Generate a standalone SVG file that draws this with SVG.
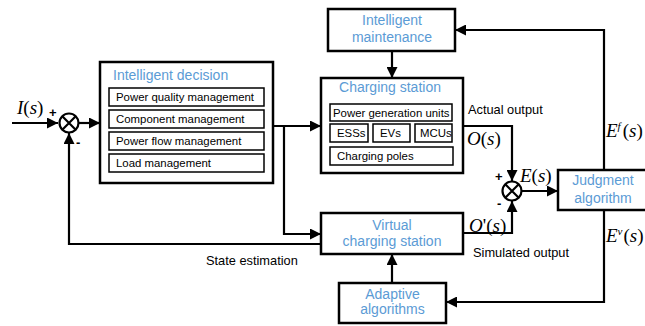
<svg xmlns="http://www.w3.org/2000/svg" width="645" height="326" viewBox="0 0 645 326">
<style>
.box{fill:#fff;stroke:#000;stroke-width:2.5}
.sub{fill:#fff;stroke:#000;stroke-width:1.5}
.ln{fill:none;stroke:#000;stroke-width:2.2}
.blue{font-family:"Liberation Sans",Arial,sans-serif;font-size:14px;fill:#5b9bd5}
.t{font-family:"Liberation Sans",Arial,sans-serif;font-size:11.4px;fill:#000}
.lb{font-family:"Liberation Sans",Arial,sans-serif;font-size:12.8px;fill:#000}
.m{font-family:"Liberation Serif","Times New Roman",serif;font-size:19px;fill:#000}
.sg{font-family:"Liberation Sans",Arial,sans-serif;font-size:13px;font-weight:bold;fill:#000}
</style>
<defs>
<marker id="ah" markerUnits="userSpaceOnUse" markerWidth="11" markerHeight="11" refX="11" refY="5.5" orient="auto">
<path d="M0,0 L11,5.5 L0,11 z" fill="#000"/>
</marker>
</defs>

<g id="connectors">
<path class="ln" d="M12,123 L58,123" marker-end="url(#ah)"/>
<path class="ln" d="M79,123 L100,123" marker-end="url(#ah)"/>
<path class="ln" d="M273,126 L321,126" marker-end="url(#ah)"/>
<path class="ln" d="M284,126 L284,234 L321,234" marker-end="url(#ah)"/>
<path class="ln" d="M321,244 L69,244 L69,133" marker-end="url(#ah)"/>
<path class="ln" d="M392,51 L392,78" marker-end="url(#ah)"/>
<path class="ln" d="M463,126 L512,126 L512,181" marker-end="url(#ah)"/>
<path class="ln" d="M463,233 L512,233 L512,201" marker-end="url(#ah)"/>
<path class="ln" d="M522,191 L558,191" marker-end="url(#ah)"/>
<path class="ln" d="M604,170 L604,30 L455,30" marker-end="url(#ah)"/>
<path class="ln" d="M604,210 L604,302 L446,302" marker-end="url(#ah)"/>
<path class="ln" d="M392,283 L392,254" marker-end="url(#ah)"/>
</g>

<g id="sum1">
<circle cx="69" cy="123" r="9.5" fill="#fff" stroke="#000" stroke-width="2.2"/>
<path class="ln" d="M62.3,116.3 L75.7,129.7 M75.7,116.3 L62.3,129.7"/>
</g>
<g id="sum2">
<circle cx="512" cy="191" r="9.5" fill="#fff" stroke="#000" stroke-width="2.2"/>
<path class="ln" d="M505.3,184.3 L518.7,197.7 M518.7,184.3 L505.3,197.7"/>
</g>

<g id="decision">
<rect class="box" x="100" y="62" width="173" height="121"/>
<text class="blue" x="113" y="80">Intelligent decision</text>
<rect class="sub" x="109" y="88" width="155" height="18"/>
<text class="t" x="116" y="101">Power quality management</text>
<rect class="sub" x="109" y="110" width="155" height="18"/>
<text class="t" x="116" y="123">Component management</text>
<rect class="sub" x="109" y="132" width="155" height="18"/>
<text class="t" x="116" y="145">Power flow management</text>
<rect class="sub" x="109" y="154" width="155" height="18"/>
<text class="t" x="116" y="167">Load management</text>
</g>

<g id="maintenance">
<rect class="box" x="328" y="9" width="127" height="42"/>
<text class="blue" x="392" y="25" text-anchor="middle">Intelligent</text>
<text class="blue" x="392" y="42" text-anchor="middle">maintenance</text>
</g>

<g id="charging">
<rect class="box" x="321" y="78" width="142" height="95"/>
<text class="blue" x="390" y="92" text-anchor="middle">Charging station</text>
<rect class="sub" x="330" y="104" width="122" height="17"/>
<text class="t" x="333" y="116.5">Power generation units</text>
<rect class="sub" x="330" y="124" width="38" height="18"/>
<text class="t" x="337" y="137">ESSs</text>
<rect class="sub" x="373" y="124" width="37" height="18"/>
<text class="t" x="380" y="137">EVs</text>
<rect class="sub" x="415" y="124" width="37" height="18"/>
<text class="t" x="420" y="137">MCUs</text>
<rect class="sub" x="330" y="147" width="123" height="18"/>
<text class="t" x="337" y="160">Charging poles</text>
</g>

<g id="virtual">
<rect class="box" x="321" y="213" width="142" height="41"/>
<text class="blue" x="392" y="230" text-anchor="middle">Virtual</text>
<text class="blue" x="392" y="246" text-anchor="middle">charging station</text>
</g>

<g id="adaptive">
<rect class="box" x="339" y="283" width="107" height="40"/>
<text class="blue" x="392.5" y="299" text-anchor="middle">Adaptive</text>
<text class="blue" x="392.5" y="314" text-anchor="middle">algorithms</text>
</g>

<g id="judgment">
<rect class="box" x="558" y="170" width="95" height="40"/>
<text class="blue" x="603" y="185" text-anchor="middle">Judgment</text>
<text class="blue" x="603" y="203" text-anchor="middle">algorithm</text>
</g>

<g id="labels">
<text class="m" x="17" y="114"><tspan font-style="italic">I</tspan>(<tspan font-style="italic">s</tspan>)</text>
<text class="sg" x="49" y="117">+</text>
<text class="sg" x="76" y="147">-</text>
<text class="m" x="467" y="145"><tspan font-style="italic">O</tspan>(<tspan font-style="italic">s</tspan>)</text>
<text class="m" x="469" y="232"><tspan font-style="italic">O</tspan>'(<tspan font-style="italic">s</tspan>)</text>
<text class="m" x="520" y="182"><tspan font-style="italic">E</tspan>(<tspan font-style="italic">s</tspan>)</text>
<text class="sg" x="495" y="181">+</text>
<text class="sg" x="497" y="208">-</text>
<text class="m" x="606" y="137"><tspan font-style="italic">E</tspan><tspan font-style="italic" font-size="11" dy="-7">f</tspan><tspan dx="2" dy="7">(</tspan><tspan font-style="italic">s</tspan>)</text>
<text class="m" x="606" y="242"><tspan font-style="italic">E</tspan><tspan font-style="italic" font-size="11" dy="-7">v</tspan><tspan dx="1" dy="7">(</tspan><tspan font-style="italic">s</tspan>)</text>
<text class="lb" x="468" y="114">Actual output</text>
<text class="lb" x="206" y="265">State estimation</text>
<text class="lb" x="473" y="257">Simulated output</text>
</g>
</svg>
